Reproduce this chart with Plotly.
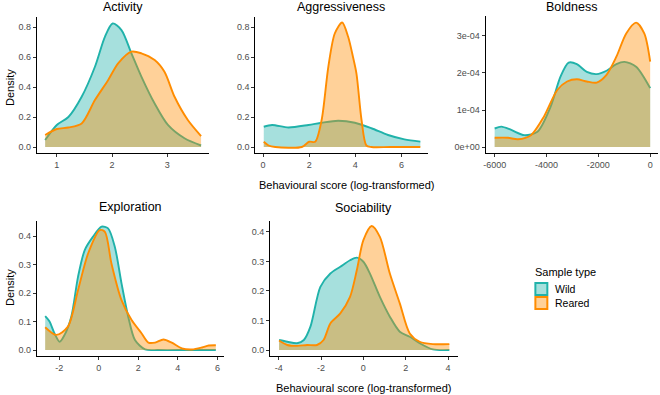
import plotly.graph_objects as go

W, H = 660, 395

panel_titles = ["Activity", "Aggressiveness", "Boldness", "Exploration", "Sociability"]

# ---- Activity
act_wild_x = [0.79, 1.0, 1.21, 1.45, 1.69, 1.87, 2.01, 2.17, 2.35, 2.53, 2.77, 3.01, 3.31, 3.61]
act_wild_y = [0.047, 0.147, 0.2, 0.335, 0.535, 0.735, 0.824, 0.78, 0.625, 0.47, 0.29, 0.147, 0.058, 0.01]
act_rear_x = [0.79, 1.0, 1.21, 1.45, 1.69, 1.93, 2.11, 2.35, 2.53, 2.77, 2.95, 3.13, 3.37, 3.61]
act_rear_y = [0.08, 0.12, 0.13, 0.157, 0.313, 0.447, 0.558, 0.636, 0.625, 0.58, 0.50, 0.335, 0.18, 0.073]

# ---- Aggressiveness
agg_wild_x = [0.03, 0.39, 1.1, 1.97, 2.54, 3.26, 3.98, 4.7, 5.42, 6.13, 6.82]
agg_wild_y = [0.135, 0.147, 0.13, 0.147, 0.162, 0.175, 0.162, 0.125, 0.08, 0.051, 0.036]
agg_rear_x = [0.03, 0.24, 0.53, 1.68, 2.0, 2.26, 2.54, 2.83, 3.11, 3.43, 3.69, 3.9, 4.05, 4.27, 4.48, 4.7, 5.5, 6.82]
agg_rear_y = [0.035, 0.01, 0.0, 0.0, 0.035, 0.035, 0.18, 0.535, 0.757, 0.83, 0.735, 0.6, 0.49, 0.18, 0.01, 0.0, 0.0, 0.0]

# ---- Boldness
bol_wild_x = [-6000, -5740, -5360, -4856, -4350, -3840, -3460, -3145, -2830, -2445, -2065, -1684, -1304, -990, -544, 0]
bol_wild_y = [0.50e-4, 0.55e-4, 0.46e-4, 0.32e-4, 0.41e-4, 1.09e-4, 1.90e-4, 2.28e-4, 2.24e-4, 2.03e-4, 1.97e-4, 2.06e-4, 2.24e-4, 2.30e-4, 2.17e-4, 1.59e-4]
bol_rear_x = [-6000, -5490, -5100, -4600, -4100, -3585, -3205, -2830, -2445, -2065, -1684, -1304, -924, -544, -228, 0]
bol_rear_y = [0.25e-4, 0.25e-4, 0.21e-4, 0.32e-4, 0.82e-4, 1.54e-4, 1.77e-4, 1.83e-4, 1.77e-4, 1.74e-4, 1.95e-4, 2.44e-4, 3.07e-4, 3.36e-4, 3.07e-4, 2.31e-4]

# ---- Exploration
exp_wild_x = [-2.71, -2.49, -2.24, -1.98, -1.73, -1.39, -1.05, -0.71, -0.29, 0.14, 0.47, 0.81, 1.15, 1.49, 1.83, 2.34, 3.0, 4.5, 5.92]
exp_wild_y = [0.119, 0.1, 0.058, 0.029, 0.053, 0.117, 0.257, 0.351, 0.398, 0.433, 0.427, 0.363, 0.234, 0.117, 0.035, 0.002, 0.0, 0.0, 0.0]
exp_rear_x = [-2.71, -2.15, -1.56, -1.05, -0.54, 0.05, 0.31, 0.64, 1.15, 1.66, 2.17, 2.51, 2.85, 3.27, 3.69, 4.2, 4.71, 5.22, 5.56, 5.92]
exp_rear_y = [0.08, 0.053, 0.082, 0.21, 0.339, 0.421, 0.415, 0.304, 0.175, 0.105, 0.058, 0.026, 0.026, 0.037, 0.026, 0.006, 0.002, 0.009, 0.016, 0.017]

# ---- Sociability
soc_wild_x = [-3.98, -3.59, -3.13, -2.81, -2.5, -2.03, -1.56, -1.09, -0.63, -0.31, 0.0, 0.31, 0.78, 1.25, 1.72, 2.19, 2.66, 3.28, 4.06]
soc_wild_y = [0.034, 0.028, 0.023, 0.034, 0.079, 0.214, 0.259, 0.282, 0.304, 0.313, 0.299, 0.259, 0.18, 0.113, 0.062, 0.045, 0.023, 0.002, 0.0]
soc_rear_x = [-3.98, -3.59, -3.13, -2.66, -2.19, -1.88, -1.56, -1.09, -0.63, -0.31, 0.0, 0.39, 0.78, 1.25, 1.72, 2.19, 2.66, 3.28, 4.06]
soc_rear_y = [0.032, 0.017, 0.014, 0.017, 0.017, 0.034, 0.09, 0.124, 0.18, 0.27, 0.372, 0.42, 0.383, 0.259, 0.158, 0.056, 0.028, 0.02, 0.02]

series = [
    (act_wild_x, act_wild_y, act_rear_x, act_rear_y),
    (agg_wild_x, agg_wild_y, agg_rear_x, agg_rear_y),
    (bol_wild_x, bol_wild_y, bol_rear_x, bol_rear_y),
    (exp_wild_x, exp_wild_y, exp_rear_x, exp_rear_y),
    (soc_wild_x, soc_wild_y, soc_rear_x, soc_rear_y),
]

# tick values / labels
x_tickvals = [[1, 2, 3], [0, 2, 4, 6], [-6000, -4000, -2000, 0], [-2, 0, 2, 4, 6], [-4, -2, 0, 2, 4]]
x_ticktext = [["1", "2", "3"], ["0", "2", "4", "6"], ["-6000", "-4000", "-2000", "0"],
              ["-2", "0", "2", "4", "6"], ["-4", "-2", "0", "2", "4"]]
y_tickvals = [[0, 0.2, 0.4, 0.6, 0.8], [0, 0.2, 0.4, 0.6, 0.8], [0, 1e-4, 2e-4, 3e-4],
              [0, 0.1, 0.2, 0.3, 0.4], [0, 0.1, 0.2, 0.3, 0.4]]
y_ticktext = [["0.0", "0.2", "0.4", "0.6", "0.8"], ["0.0", "0.2", "0.4", "0.6", "0.8"],
              ["0e+00", "1e-04", "2e-04", "3e-04"],
              ["0.0", "0.1", "0.2", "0.3", "0.4"], ["0.0", "0.1", "0.2", "0.3", "0.4"]]

group_names = ["Wild", "Reared"]
legend_title = "Sample type"
x_axis_label = "Behavioural score (log-transformed)"
y_axis_label = "Density"

# layout (pixel boxes: left, right, top, bottom)
boxes = [(35, 208, 17, 153), (254, 427, 17, 153), (485, 658, 16, 153),
         (35, 223, 221, 356), (269, 457, 221, 356)]
title_y = [7, 7, 7, 207, 208]
x_ranges = [[0.64, 3.76], [-0.34, 7.14], [-6352, 302], [-3.13, 6.35], [-4.4, 4.45]]
y_ranges = [[-0.04, 0.867], [-0.04, 0.867], [-0.162e-4, 3.54e-4], [-0.021, 0.453], [-0.0203, 0.437]]

WILD_LINE = "#20B2AA"
WILD_FILL = "rgba(32,178,170,0.4)"
REAR_LINE = "#FF8C00"
REAR_FILL = "rgba(255,140,0,0.4)"
FONT = "Liberation Sans, Arial, sans-serif"

fig = go.Figure()
layout = {}
annotations = []
shapes = []

for i, (wx, wy, rx, ry) in enumerate(series):
    n = i + 1
    xa = "x" if n == 1 else f"x{n}"
    ya = "y" if n == 1 else f"y{n}"
    fig.add_trace(go.Scatter(x=wx, y=wy, mode="lines", fill="tozeroy", fillcolor=WILD_FILL,
                             line=dict(color=WILD_LINE, width=1.9, shape="spline", smoothing=0.8),
                             xaxis=xa, yaxis=ya, showlegend=False, hoverinfo="skip"))
    fig.add_trace(go.Scatter(x=rx, y=ry, mode="lines", fill="tozeroy", fillcolor=REAR_FILL,
                             line=dict(color=REAR_LINE, width=1.9, shape="spline", smoothing=0.8),
                             xaxis=xa, yaxis=ya, showlegend=False, hoverinfo="skip"))
    l, r, t, b = boxes[i]
    axis_common = dict(showgrid=False, zeroline=False, showline=True, linecolor="#000000",
                       linewidth=1, ticks="outside", ticklen=3, tickcolor="#333333",
                       tickfont=dict(family=FONT, size=9, color="#4d4d4d"), fixedrange=True)
    layout["xaxis" if n == 1 else f"xaxis{n}"] = dict(
        domain=[l / W, r / W], anchor=ya, range=x_ranges[i], tickmode="array",
        tickvals=x_tickvals[i], ticktext=x_ticktext[i], **axis_common)
    layout["yaxis" if n == 1 else f"yaxis{n}"] = dict(
        domain=[1 - b / H, 1 - t / H], anchor=xa, range=y_ranges[i], tickmode="array",
        tickvals=y_tickvals[i], ticktext=y_ticktext[i], **axis_common)
    annotations.append(dict(text=panel_titles[i], x=(l + r) / 2 / W, y=1 - title_y[i] / H,
                            xref="paper", yref="paper", showarrow=False, xanchor="center",
                            yanchor="middle", borderpad=0,
                            font=dict(family=FONT, size=12.5, color="#000000")))

# axis titles
for xc, yc in ((346, 185), (363, 388)):
    annotations.append(dict(text=x_axis_label, x=xc / W, y=1 - yc / H, xref="paper", yref="paper",
                            showarrow=False, xanchor="center", yanchor="middle",
                            font=dict(family=FONT, size=11, color="#000000")))
for yc in (87, 287):
    annotations.append(dict(text=y_axis_label, x=8 / W, y=1 - yc / H, xref="paper", yref="paper",
                            showarrow=False, textangle=-90, xanchor="center", yanchor="middle",
                            font=dict(family=FONT, size=11, color="#000000")))

# legend (drawn as keys + labels)
annotations.append(dict(text=legend_title, x=533 / W, y=1 - 272 / H, xref="paper", yref="paper",
                        showarrow=False, xanchor="left", yanchor="middle",
                        font=dict(family=FONT, size=11, color="#000000")))
for k, (name, lc, fc) in enumerate([(group_names[0], WILD_LINE, WILD_FILL),
                                    (group_names[1], REAR_LINE, REAR_FILL)]):
    yc = 289 + 14 * k
    shapes.append(dict(type="rect", xref="paper", yref="paper",
                       x0=535 / W, x1=547 / W, y0=1 - (yc - 6) / H, y1=1 - (yc + 6) / H,
                       line=dict(color=lc, width=2), fillcolor=fc))
    annotations.append(dict(text=name, x=553 / W, y=1 - yc / H, xref="paper", yref="paper",
                            showarrow=False, xanchor="left", yanchor="middle",
                            font=dict(family=FONT, size=10.5, color="#000000")))

fig.update_layout(
    width=W, height=H, margin=dict(l=0, r=0, t=0, b=0),
    paper_bgcolor="white", plot_bgcolor="white",
    annotations=annotations, shapes=shapes, showlegend=False,
    **layout,
)

fig.write_html("out.html")
